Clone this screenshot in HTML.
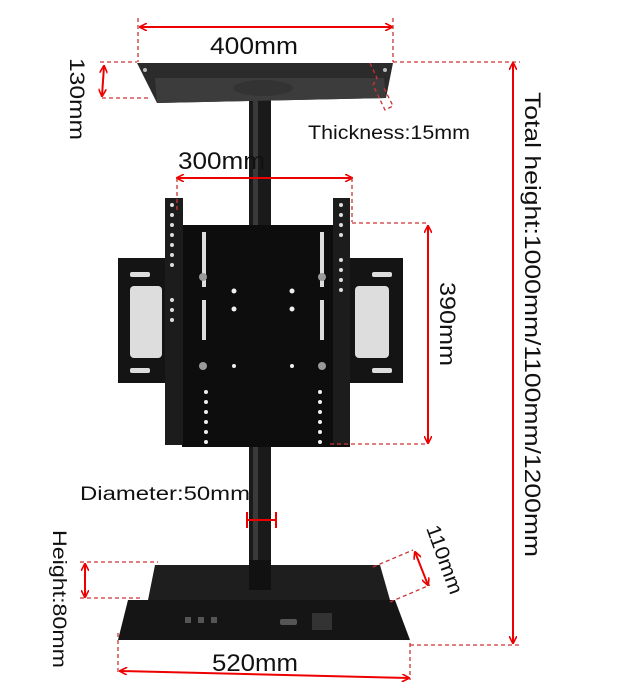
<!DOCTYPE html>
<html><head><meta charset="utf-8"><style>
html,body{margin:0;padding:0;background:#fff;}
svg{display:block;}
text{font-family:"Liberation Sans",sans-serif;fill:#111;}
</style></head><body>
<svg width="636" height="700" viewBox="0 0 636 700" xmlns="http://www.w3.org/2000/svg">
<defs>
<marker id="a" viewBox="0 0 10 10" refX="9" refY="5" markerWidth="8" markerHeight="8" orient="auto-start-reverse" markerUnits="userSpaceOnUse"><path d="M0,0 L10,5 L0,10" fill="none" stroke="#e00" stroke-width="2"/></marker>
</defs>
<rect x="249" y="85" width="22" height="505" fill="#1a1a1a"/>
<rect x="253" y="85" width="5" height="505" fill="#3a3a3a"/>
<polygon points="137,63 393,63 386,98 157,103" fill="#2b2b2b"/>
<polygon points="155,78 384,78 386,98 157,103" fill="#3c3c3c"/>
<ellipse cx="263" cy="88" rx="30" ry="8" fill="#333"/>
<circle cx="145" cy="70" r="2" fill="#bbb"/><circle cx="385" cy="70" r="2" fill="#bbb"/>
<rect x="118" y="258" width="285" height="125" fill="#141414"/>
<rect x="130" y="286" width="32" height="72" fill="#ddd" rx="4"/>
<rect x="355" y="286" width="34" height="72" fill="#ddd" rx="4"/>
<rect x="130" y="272" width="20" height="5" fill="#ddd" rx="2"/><rect x="372" y="272" width="20" height="5" fill="#ddd" rx="2"/>
<rect x="130" y="368" width="20" height="5" fill="#ddd" rx="2"/><rect x="372" y="368" width="20" height="5" fill="#ddd" rx="2"/>
<rect x="182" y="225" width="168" height="222" fill="#0d0d0d"/>
<rect x="202" y="232" width="4" height="55" fill="#ddd"/><rect x="320" y="232" width="4" height="55" fill="#ddd"/>
<rect x="202" y="300" width="4" height="40" fill="#ddd"/><rect x="320" y="300" width="4" height="40" fill="#ddd"/>
<circle cx="203" cy="277" r="4" fill="#999"/><circle cx="322" cy="277" r="4" fill="#999"/>
<circle cx="203" cy="366" r="4" fill="#999"/><circle cx="322" cy="366" r="4" fill="#999"/>
<circle cx="234" cy="291" r="2.5" fill="#eee"/><circle cx="292" cy="291" r="2.5" fill="#eee"/>
<circle cx="234" cy="309" r="2.5" fill="#eee"/><circle cx="292" cy="309" r="2.5" fill="#eee"/>
<circle cx="234" cy="366" r="2" fill="#eee"/><circle cx="292" cy="366" r="2" fill="#eee"/>
<g fill="#eee">
<circle cx="206" cy="392" r="2"/><circle cx="206" cy="402" r="2"/><circle cx="206" cy="412" r="2"/><circle cx="206" cy="422" r="2"/><circle cx="206" cy="432" r="2"/><circle cx="206" cy="442" r="2"/>
<circle cx="320" cy="392" r="2"/><circle cx="320" cy="402" r="2"/><circle cx="320" cy="412" r="2"/><circle cx="320" cy="422" r="2"/><circle cx="320" cy="432" r="2"/><circle cx="320" cy="442" r="2"/>
</g>
<rect x="165" y="198" width="18" height="247" fill="#1c1c1c"/>
<rect x="333" y="198" width="17" height="247" fill="#1c1c1c"/>
<g fill="#ddd">
<circle cx="172" cy="205" r="2"/><circle cx="172" cy="215" r="2"/><circle cx="172" cy="225" r="2"/><circle cx="172" cy="235" r="2"/><circle cx="172" cy="245" r="2"/><circle cx="172" cy="255" r="2"/><circle cx="172" cy="265" r="2"/><circle cx="172" cy="300" r="2"/><circle cx="172" cy="310" r="2"/><circle cx="172" cy="320" r="2"/>
<circle cx="341" cy="205" r="2"/><circle cx="341" cy="215" r="2"/><circle cx="341" cy="225" r="2"/><circle cx="341" cy="235" r="2"/><circle cx="341" cy="260" r="2"/><circle cx="341" cy="270" r="2"/><circle cx="341" cy="280" r="2"/><circle cx="341" cy="290" r="2"/>
</g>
<polygon points="155,565 380,565 390,600 148,600" fill="#1e1e1e"/>
<rect x="249" y="560" width="22" height="30" fill="#111"/>
<polygon points="128,600 395,600 410,640 118,640" fill="#151515"/>
<rect x="185" y="617" width="6" height="6" fill="#555"/><rect x="198" y="617" width="6" height="6" fill="#555"/><rect x="211" y="617" width="6" height="6" fill="#555"/>
<rect x="280" y="619" width="17" height="6" fill="#555" rx="2"/>
<rect x="312" y="613" width="20" height="17" fill="#333"/>
<g stroke="#e00" stroke-width="2" fill="none">
<line x1="140" y1="27" x2="392" y2="27" marker-start="url(#a)" marker-end="url(#a)"/>
<line x1="104" y1="66" x2="102" y2="96" marker-start="url(#a)" marker-end="url(#a)"/>
<line x1="177" y1="178" x2="352" y2="178" marker-start="url(#a)" marker-end="url(#a)"/>
<line x1="428" y1="226" x2="428" y2="443" marker-start="url(#a)" marker-end="url(#a)"/>
<line x1="513" y1="63" x2="513" y2="643" marker-start="url(#a)" marker-end="url(#a)"/>
<line x1="85" y1="564" x2="85" y2="597" marker-start="url(#a)" marker-end="url(#a)"/>
<line x1="415" y1="552" x2="428" y2="585" marker-start="url(#a)" marker-end="url(#a)"/>
<line x1="120" y1="671" x2="409" y2="678" marker-start="url(#a)" marker-end="url(#a)"/>
<line x1="247" y1="520" x2="276" y2="520"/><line x1="247" y1="512" x2="247" y2="528"/><line x1="276" y1="512" x2="276" y2="528"/>
</g>
<g stroke="#c33" stroke-width="1.3" fill="none" stroke-dasharray="4,3">
<line x1="138" y1="18" x2="138" y2="62"/><line x1="393" y1="18" x2="393" y2="62"/>
<line x1="393" y1="62" x2="520" y2="62"/>
<line x1="100" y1="62" x2="137" y2="62"/><line x1="102" y1="98" x2="148" y2="98"/>
<polyline points="370,63 377,78 373,85 385,110 393,106 383,86"/>
<line x1="177" y1="178" x2="177" y2="212"/><line x1="352" y1="178" x2="352" y2="222"/>
<line x1="352" y1="223" x2="428" y2="223"/><line x1="330" y1="444" x2="428" y2="444"/>
<line x1="410" y1="645" x2="520" y2="645"/>
<line x1="80" y1="562" x2="158" y2="562"/><line x1="80" y1="598" x2="140" y2="598"/>
<line x1="373" y1="567" x2="413" y2="550"/><line x1="390" y1="602" x2="430" y2="585"/>
<line x1="118" y1="633" x2="118" y2="672"/><line x1="410" y1="643" x2="410" y2="680"/>
</g>
<text x="210" y="54" font-size="24" textLength="88" lengthAdjust="spacingAndGlyphs">400mm</text>
<text transform="translate(70,58) rotate(90)" font-size="21" textLength="82" lengthAdjust="spacingAndGlyphs">130mm</text>
<text x="308" y="139" font-size="19" textLength="162" lengthAdjust="spacingAndGlyphs">Thickness:15mm</text>
<text x="178" y="169" font-size="24" textLength="87" lengthAdjust="spacingAndGlyphs">300mm</text>
<text transform="translate(440,282) rotate(90)" font-size="22" textLength="84" lengthAdjust="spacingAndGlyphs">390mm</text>
<text transform="translate(525,92) rotate(90)" font-size="22" textLength="465" lengthAdjust="spacingAndGlyphs">Total height:1000mm/1100mm/1200mm</text>
<text x="80" y="500" font-size="19" textLength="170" lengthAdjust="spacingAndGlyphs">Diameter:50mm</text>
<text transform="translate(53,530) rotate(90)" font-size="19" textLength="138" lengthAdjust="spacingAndGlyphs">Height:80mm</text>
<text transform="translate(426,528) rotate(70)" font-size="20" textLength="72" lengthAdjust="spacingAndGlyphs">110mm</text>
<text x="212" y="671" font-size="24" textLength="86" lengthAdjust="spacingAndGlyphs">520mm</text>
</svg>
</body></html>
